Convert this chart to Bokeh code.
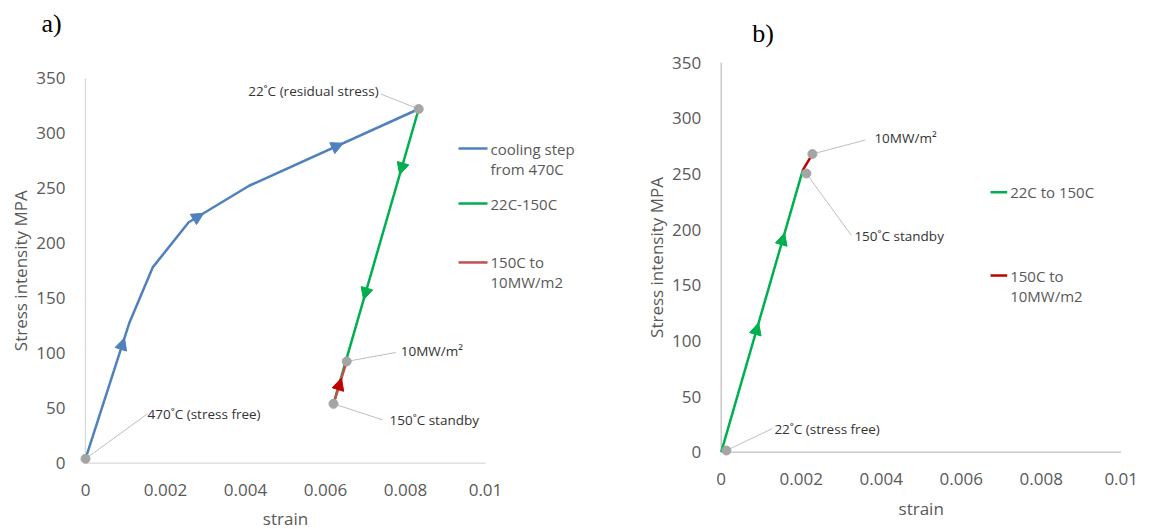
from math import pi
from bokeh.plotting import figure
from bokeh.models import Range1d, Label, Arrow, NormalHead
from bokeh.layouts import row
from bokeh.embed import file_html
from bokeh.resources import INLINE

# ---------------- data ----------------
x_ticks = [0, 0.002, 0.004, 0.006, 0.008, 0.01]
x_tick_labels = ["0", "0.002", "0.004", "0.006", "0.008", "0.01"]
y_ticks = [0, 50, 100, 150, 200, 250, 300, 350]
y_tick_labels = ["0", "50", "100", "150", "200", "250", "300", "350"]

# panel a
a_cool_strain = [0.0, 0.0011, 0.00168, 0.00258, 0.00408, 0.00833]
a_cool_stress = [4, 128, 178, 219, 252, 322]
a_heat_strain = [0.00833, 0.0062]
a_heat_stress = [322, 54]
a_power_strain = [0.0062, 0.00653]
a_power_stress = [54, 92.5]
a_pts_strain = [0.0, 0.00833, 0.00653, 0.0062]
a_pts_stress = [4, 322, 92.5, 54]
a_pt_labels = ["470˚C (stress free)", "22˚C (residual stress)", "10MW/m²", "150˚C standby"]
a_series_names = ["cooling step", "from 470C", "22C-150C", "150C to", "10MW/m2"]

# panel b
b_heat_strain = [0.0, 0.00204]
b_heat_stress = [0, 253.5]
b_power_strain = [0.00204, 0.00228]
b_power_stress = [253.5, 268]
b_pts_strain = [0.00013, 0.00228, 0.00213]
b_pts_stress = [1.5, 268, 250.5]
b_pt_labels = ["22˚C (stress free)", "10MW/m²", "150˚C standby"]
b_series_names = ["22C to 150C", "150C to", "10MW/m2"]

x_title = "strain"
y_title = "Stress intensity MPA"

# ---------------- styles ----------------
BLUE = "#4f81bd"
GREEN = "#00b050"
RED_A = "#c0504d"
RED = "#c00000"
GRAY = "#a5a5a5"
LEADER = "#bfbfbf"
TXT = "#595959"
ANN = "#333333"
FONT = "Open Sans"

# label placement: (leader dx, leader dy, text dx, text dy, align) in screen px
a_label_pos = [(62, 45, 62, 45, "left"), (-38, 15, -40, 18, "right"),
               (49, 9, 54, 10, "left"), (49, -16, 56, -16, "left")]
b_label_pos = [(46, 22, 48, 22, "left"), (53, 14, 62, 16, "left"),
               (45, -62, 48, -63, "left")]

# arrow placement: (segment index, fraction along segment)
a_cool_arrows = [(0, 0.887), (3, 0.25), (4, 0.556)]
a_heat_arrows = [(0, 0.223), (0, 0.647)]
a_power_arrows = [(0, 0.607)]
b_heat_arrows = [(0, 0.459), (0, 0.777)]


def make_fig(width, xr, yr, axis_color, x_lab_dy, x_title_dy):
    p = figure(width=width, height=529, output_backend="svg", toolbar_location=None,
               x_range=Range1d(*xr), y_range=Range1d(*yr),
               min_border_left=0, min_border_right=0, min_border_top=0,
               min_border_bottom=0)
    p.axis.visible = False
    p.xgrid.visible = False
    p.ygrid.visible = False
    p.outline_line_color = None
    p.background_fill_color = "white"
    p.border_fill_color = "white"
    # axis lines through the origin
    p.segment(x0=[x_ticks[0]], y0=[y_ticks[0]], x1=[x_ticks[-1]], y1=[y_ticks[0]],
              line_color=axis_color, line_width=1.3)
    p.segment(x0=[x_ticks[0]], y0=[y_ticks[0]], x1=[x_ticks[0]], y1=[y_ticks[-1]],
              line_color=axis_color, line_width=1.3)
    # tick labels
    for t, lab in zip(x_ticks, x_tick_labels):
        p.add_layout(Label(x=t, y=y_ticks[0], y_offset=x_lab_dy, text=lab, text_align="center",
                           text_baseline="middle", text_font=FONT, text_font_size="17px",
                           text_color=TXT))
    for t, lab in zip(y_ticks, y_tick_labels):
        p.add_layout(Label(x=x_ticks[0], y=t, x_offset=-20, text=lab, text_align="right",
                           text_baseline="middle", text_font=FONT, text_font_size="17px",
                           text_color=TXT))
    # axis titles
    p.add_layout(Label(x=x_ticks[0], y=(y_ticks[0] + y_ticks[-1]) / 2, x_offset=-65,
                       text=y_title, angle=pi / 2, text_align="center",
                       text_baseline="middle", text_font=FONT, text_font_size="17px",
                       text_color=TXT))
    p.add_layout(Label(x=(x_ticks[0] + x_ticks[-1]) / 2, y=y_ticks[0], y_offset=x_title_dy,
                       text=x_title, text_align="center", text_baseline="middle",
                       text_font=FONT, text_font_size="17px", text_color=TXT))
    return p


def add_arrows(p, xs, ys, spec, color):
    for seg, t in spec:
        x0, y0, x1, y1 = xs[seg], ys[seg], xs[seg + 1], ys[seg + 1]
        ex, ey = x0 + t * (x1 - x0), y0 + t * (y1 - y0)
        sx, sy = x0 + (t - 0.03) * (x1 - x0), y0 + (t - 0.03) * (y1 - y0)
        p.add_layout(Arrow(end=NormalHead(size=12, fill_color=color, line_color=color, line_width=1),
                           x_start=sx, y_start=sy, x_end=ex, y_end=ey, line_alpha=0))


def add_point_labels(p, xs, ys, texts, pos, kx, ky):
    lx0, ly0, lx1, ly1 = [], [], [], []
    for x, y, (ldx, ldy, tdx, tdy, al) in zip(xs, ys, pos):
        lx0.append(x); ly0.append(y)
        lx1.append(x + ldx / kx); ly1.append(y + ldy / ky)
    p.segment(x0=lx0, y0=ly0, x1=lx1, y1=ly1, line_color=LEADER, line_width=1)
    for x, y, t, (ldx, ldy, tdx, tdy, al) in zip(xs, ys, texts, pos):
        p.add_layout(Label(x=x, y=y, x_offset=tdx, y_offset=tdy, text=t, text_align=al,
                           text_baseline="middle", text_font=FONT, text_font_size="13.5px",
                           text_color=ANN))


def add_panel_title(p, title, tdx, tdy):
    p.add_layout(Label(x=x_ticks[0], y=y_ticks[-1], x_offset=tdx, y_offset=tdy, text=title,
                       text_align="center", text_baseline="middle",
                       text_font="Liberation Serif", text_font_size="26px", text_color="black"))


def legend_entry(p, x0, x1, y, lines, color):
    p.segment(x0=[x0], y0=[y], x1=[x1], y1=[y], line_color=color, line_width=2.5)
    for i, t in enumerate(lines):
        p.add_layout(Label(x=x1, y=y, x_offset=3, y_offset=-20 * i, text=t, text_align="left",
                           text_baseline="middle", text_font=FONT, text_font_size="15px",
                           text_color=TXT))


# ---------------- panel a ----------------
A_KX, A_KY = 40000.0, 1.1
pa = make_fig(600, (-0.002125, 0.012875), (-60.27, 420.64), "#d9d9d9", -27, -55)
pa.line(a_cool_strain, a_cool_stress, line_color=BLUE, line_width=2.5)
pa.line(a_heat_strain, a_heat_stress, line_color=GREEN, line_width=2.5)
pa.line(a_power_strain, a_power_stress, line_color=RED_A, line_width=2.5)
add_arrows(pa, a_cool_strain, a_cool_stress, a_cool_arrows, BLUE)
add_arrows(pa, a_heat_strain, a_heat_stress, a_heat_arrows, GREEN)
add_arrows(pa, a_power_strain, a_power_stress, a_power_arrows, RED)
add_point_labels(pa, a_pts_strain, a_pts_stress, a_pt_labels, a_label_pos, A_KX, A_KY)
pa.scatter(a_pts_strain, a_pts_stress, size=9, color=GRAY, marker="circle")
add_panel_title(pa, "a)", -34, 55)
legend_entry(pa, 0.009325, 0.01005, 286, a_series_names[0:2], BLUE)
legend_entry(pa, 0.009325, 0.01005, 236, a_series_names[2:3], GREEN)
legend_entry(pa, 0.009325, 0.01005, 182.5, a_series_names[3:5], RED_A)

# ---------------- panel b ----------------
B_KX, B_KY = 40000.0, 1.1126
pb = make_fig(550, (-0.0030175, 0.0107325), (-69.48, 405.98), "#bfbfbf", -27, -56)
pb.line(b_heat_strain, b_heat_stress, line_color=GREEN, line_width=2.5)
pb.line(b_power_strain, b_power_stress, line_color=RED, line_width=2.5)
add_arrows(pb, b_heat_strain, b_heat_stress, b_heat_arrows, GREEN)
add_point_labels(pb, b_pts_strain, b_pts_stress, b_pt_labels, b_label_pos, B_KX, B_KY)
pb.scatter(b_pts_strain, b_pts_stress, size=9, color=GRAY, marker="circle")
add_panel_title(pb, "b)", 42, 29)
legend_entry(pb, 0.006733, 0.00715, 233.7, b_series_names[0:1], GREEN)
legend_entry(pb, 0.006733, 0.00715, 158.8, b_series_names[1:3], RED)

layout = row(pa, pb)
open("out.html", "w").write(file_html(layout, INLINE))
